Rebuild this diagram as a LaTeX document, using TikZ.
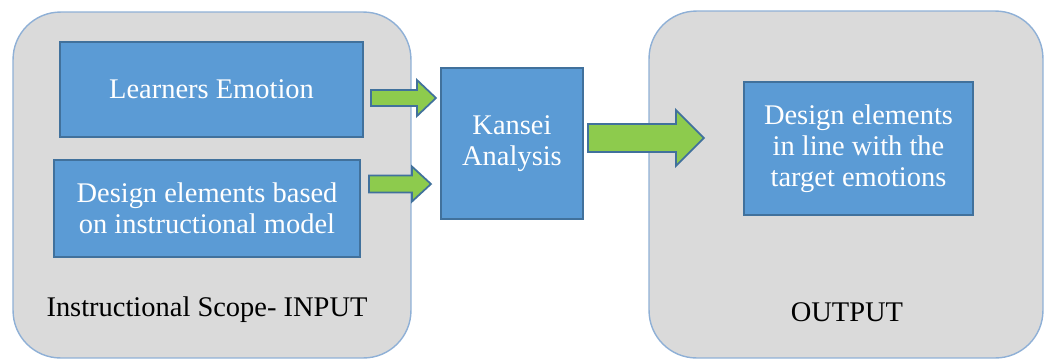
\documentclass[tikz,border=0pt]{standalone}
\usepackage{fontspec}
\setmainfont{Liberation Serif}
\usetikzlibrary{calc, positioning}

\definecolor{boxblue}{HTML}{5B9BD5}
\definecolor{boxline}{HTML}{41719C}
\definecolor{panelgray}{HTML}{DADADA}
\definecolor{panelline}{HTML}{8FB0D6}
\definecolor{arrowgreen}{HTML}{8DCB4D}

\tikzset{
  panel/.style={draw=panelline, line width=0.8pt, fill=panelgray, rounded corners=0.95cm},
  bluebox/.style={draw=boxline, line width=1.2pt, fill=boxblue, text=white, align=center,
    font=\fontsize{16.2}{17.6}\selectfont},
  panellabel/.style={text=black, font=\fontsize{16.2}{17.6}\selectfont},
  greenarrow/.style={draw=boxline, line width=1pt, fill=arrowgreen, line join=miter}
}

% block arrow: start, tip, half shaft, half head, head length
\newcommand{\blockarrow}[5]{%
  \draw[greenarrow] ($(#1)+(0,-#3)$) -- ($(#2)+(-#5,-#3)$) -- ($(#2)+(-#5,-#4)$) -- (#2)
    -- ($(#2)+(-#5,#4)$) -- ($(#2)+(-#5,#3)$) -- ($(#1)+(0,#3)$) -- cycle;}

\begin{document}
\begin{tikzpicture}[x=0.02cm, y=-0.02cm]
\useasboundingbox (0,0) rectangle (1045,360);
%panels
\node[panel, minimum width=7.96cm, minimum height=6.92cm] (inpanel) at (212,185) {};
\node[panel, minimum width=7.88cm, minimum height=6.94cm] (outpanel) at (846,184.5) {};
\node[panellabel] (inlabel) at (207,310) {Instructional Scope- INPUT};
\node[panellabel] (outlabel) at (847,312) {OUTPUT};
%boxes
\node[bluebox, minimum width=6.06cm, minimum height=1.9cm] (learn) at (211.5,89.5) {Learners Emotion};
\node[bluebox, minimum width=6.12cm, minimum height=1.94cm] (design) at (207,208.5) {Design elements based\\on instructional model};
\node[bluebox, minimum width=2.84cm, minimum height=3.02cm] (kansei) at (512,143.5) {Kansei\\Analysis};
\node[bluebox, minimum width=4.58cm, minimum height=2.66cm] (result) at (858.5,148.5) {Design elements\\in line with the\\target emotions};
%arrows
\coordinate (a1s) at ($(learn.east)+(7,8.5)$);
\coordinate (a1e) at ($(a1s -| kansei.west)+(-4,0)$);
\coordinate (a2s) at ($(design.east)+(8,-24.5)$);
\coordinate (a2e) at ($(a2s -| kansei.west)+(-9,0)$);
\coordinate (a3s) at ($(kansei.east)+(4,-5.5)$);
\coordinate (a3e) at ($(a3s -| result.west)+(-39,0)$);
\blockarrow{a1s}{a1e}{8}{18}{19}
\blockarrow{a2s}{a2e}{8.5}{17.5}{19}
\blockarrow{a3s}{a3e}{14}{28}{28}
\end{tikzpicture}
\end{document}
